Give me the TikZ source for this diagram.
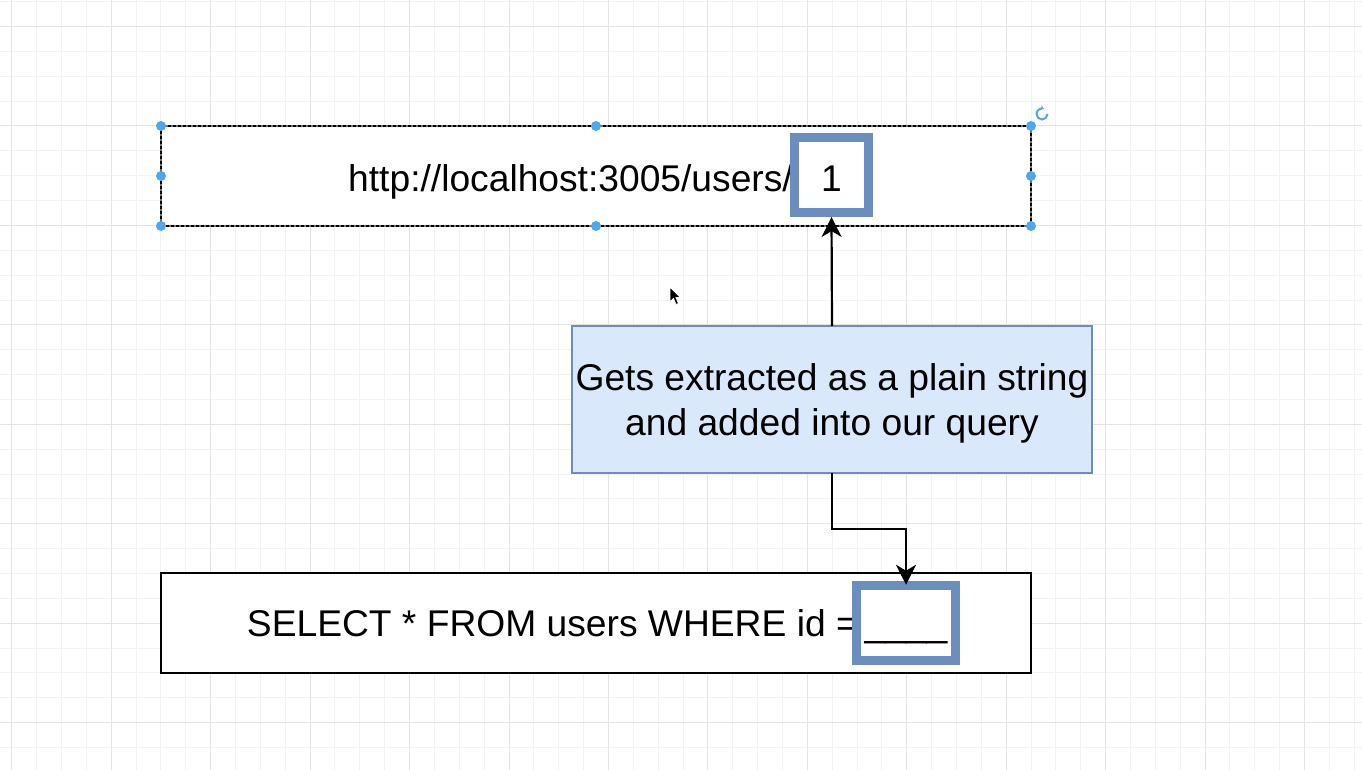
\documentclass[tikz,border=0pt]{standalone}
\usepackage{fontspec}
\setmainfont{Liberation Sans}
\usepackage{xcolor}
\usepackage{tikz}
\usetikzlibrary{arrows.meta, positioning}

\definecolor{gridminor}{HTML}{F2F2F2}
\definecolor{gridmajor}{HTML}{E3E3E3}
\definecolor{slotblue}{HTML}{6C8EBF}
\definecolor{notefill}{HTML}{DAE8FC}
\definecolor{handleblue}{HTML}{4DA8EE}
\newcommand{\diagfont}{\fontsize{37.2}{45}\selectfont}

\begin{document}
\begin{tikzpicture}[
    x=1pt, y=-1pt,
    % ── Outer boxes (URL and SQL line) ─────────────────────────────
    box/.style={
        draw=black, rectangle, line width=2pt,
        minimum width=870pt, minimum height=100pt,
        inner sep=0pt, outer sep=0pt, fill=white
    },
    % ── Thick blue slot holding the value ──────────────────────────
    slot/.style={
        draw=slotblue, fill=white, line width=9pt,
        inner sep=0pt, font=\diagfont
    },
    % ── Explanation note ───────────────────────────────────────────
    note/.style={
        draw=slotblue, fill=notefill, line width=2pt,
        minimum width=520pt, minimum height=147pt,
        align=center, font=\diagfont, inner sep=0pt, outer sep=0pt
    },
    % ── Plain text in boxes ────────────────────────────────────────
    lbl/.style={font=\diagfont, inner sep=0pt},
    % ── Arrows: solid black, classic head ──────────────────────────
    arrow/.style={line width=2.2pt, draw=black,
        -{Stealth[length=20pt, width=20pt, inset=6pt]}},
    % ── Selection handles of the editor ────────────────────────────
    handle/.style={circle, fill=handleblue, minimum size=10pt, inner sep=0pt}
]

% ══════════════════════════════════════════════════════════════════════
% CANVAS AND GRID
% ══════════════════════════════════════════════════════════════════════
    \fill[white] (0,0) rectangle (1362,770);
    \useasboundingbox (0,0) rectangle (1362,770);
    \foreach \k in {0,...,54}
        \draw[gridminor, line width=1pt] ({11.8+24.86*\k},0) -- ({11.8+24.86*\k},770);
    \foreach \k in {0,...,30}
        \draw[gridminor, line width=1pt] (0,{1.7+24.86*\k}) -- (1362,{1.7+24.86*\k});
    \foreach \k in {0,4,...,52}
        \draw[gridmajor, line width=1pt] ({11.8+24.86*\k},0) -- ({11.8+24.86*\k},770);
    \foreach \k in {1,5,...,29}
        \draw[gridmajor, line width=1pt] (0,{1.7+24.86*\k}) -- (1362,{1.7+24.86*\k});

% ══════════════════════════════════════════════════════════════════════
% NODE PLACEMENT
% ══════════════════════════════════════════════════════════════════════

    % ── URL box (selected) ──
    \node[box, draw=black!55] (urlbox) at (596,176) {};
    \draw[black, line width=2pt, dash pattern=on 3pt off 2pt]
        (urlbox.north west) rectangle (urlbox.south east);
    \node[lbl, anchor=base east] (urltext) at (793,192)
        {http://localhost:3005/users/};
    \node[slot, minimum width=74pt, minimum height=75pt,
          text height=36pt, text depth=2pt] (idslot) at (831.5,175) {1};

    % ── Note ──
    \node[note, text depth=0pt] (note) at (832,399.5)
        {Gets extracted as a plain string\\and added into our query};

    % ── SQL box ──
    \node[box] (sqlbox) at (596,623) {};
    \node[lbl, anchor=base east] (sqltext) at (858,636)
        {SELECT * FROM users WHERE id =};
    \node[slot, minimum width=99.5pt, minimum height=75.5pt,
          text height=30pt, text depth=4pt] (sqlslot) at (906,623)
        {\_\_\_\_};

% ══════════════════════════════════════════════════════════════════════
% CONNECTIONS
% ══════════════════════════════════════════════════════════════════════

    \draw[arrow] (note.north) -- (idslot.south);

    \draw[arrow, shorten >=-4pt] (note.south) -- ++(0,56) -| (sqlslot.north);

% ══════════════════════════════════════════════════════════════════════
% EDITOR MARKS
% ══════════════════════════════════════════════════════════════════════
    \foreach \a in {north west, north, north east, west, east,
                    south west, south, south east}
        \node[handle] (h-\a) at (urlbox.\a) {};

    \draw[handleblue, line width=2pt, -{Stealth[length=3.5pt, width=5pt]}]
        (1047.5,114) arc[start angle=0, end angle=290, radius=5.5];

    % mouse pointer
    \filldraw[fill=black, draw=white, line width=0.8pt]
        (670,287) -- (670,302) -- (673.5,298.5) -- (676,304.5)
        -- (678.5,303.5) -- (676,297.5) -- (680.5,297.5) -- cycle;

\end{tikzpicture}
\end{document}
